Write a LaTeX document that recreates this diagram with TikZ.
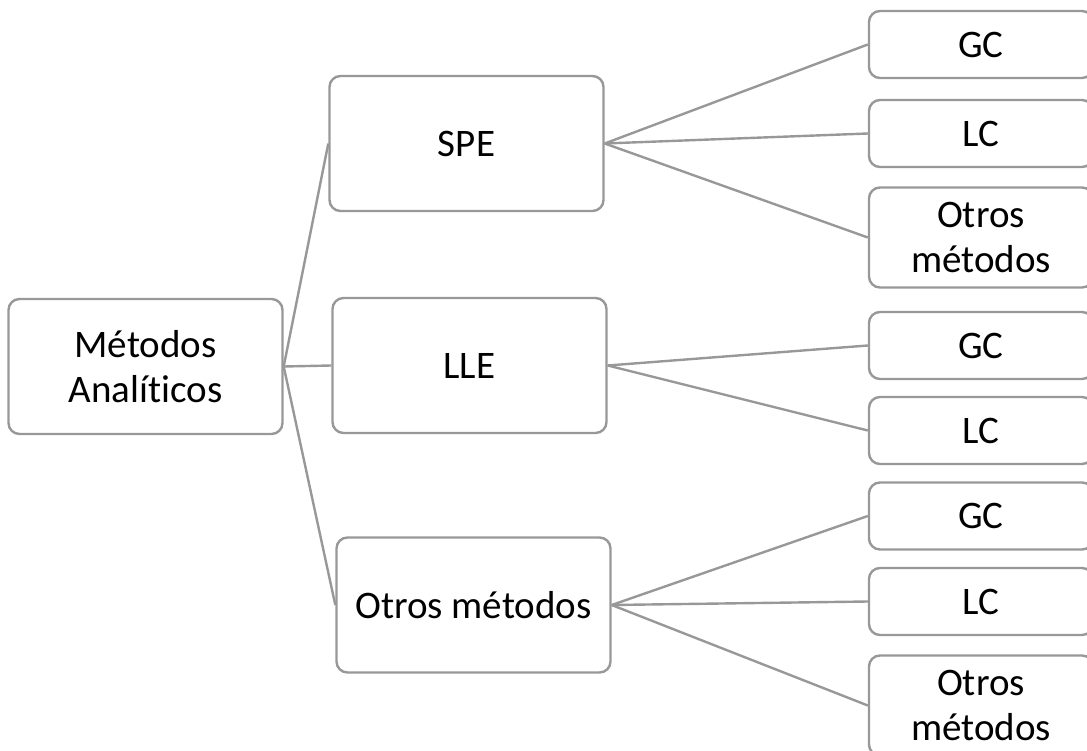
\documentclass[tikz,border=0pt]{standalone}
\usepackage{fontspec}
\setmainfont{Carlito}[Ligatures=NoCommon]
\usepackage{xcolor}
\usepackage{tikz}
\usetikzlibrary{positioning}
\definecolor{boxgray}{RGB}{152,152,152}
\tikzstyle{link} = [draw=boxgray, line width=2.4pt]
\tikzset{
    mbox/.style={draw=boxgray, line width=2.4pt, rounded corners=11pt, align=center,
        inner sep=0pt, font=\fontsize{39}{45}\selectfont},
    bigbox/.style={mbox, minimum width=274pt, minimum height=135pt},
    leafbox/.style={mbox, minimum width=224pt, minimum height=67pt},
    tallbox/.style={mbox, minimum width=224pt, minimum height=100pt},
}

\begin{document}
\begin{tikzpicture}[x=1pt, y=-1pt]
    \useasboundingbox (0,0) rectangle (1087,751);

    % root
    \node[bigbox] (root) at (145.5,366.5) {Métodos\\Analíticos};

    % second level
    \node[bigbox] (spe) at (466.5,143.5) {SPE};
    \node[bigbox] (lle) at (469.5,365.5) {LLE};
    \node[bigbox] (otros) at (473.5,605) {Otros métodos};

    % leaves of SPE
    \node[leafbox] (gca) at (981,44.5) {GC};
    \node[leafbox] (lca) at (981,133.5) {LC};
    \node[tallbox] (otrosa) at (981,237.5) {Otros\\métodos};

    % leaves of LLE
    \node[leafbox] (gcb) at (981,345.5) {GC};
    \node[leafbox] (lcb) at (981,430.5) {LC};

    % leaves of the other methods
    \node[leafbox] (gcc) at (981,516) {GC};
    \node[leafbox] (lcc) at (981,601.5) {LC};
    \node[tallbox] (otrosc) at (981,705.5) {Otros\\métodos};

    % connectors
    \draw[link] (root.east) -- (spe.west);
    \draw[link] (root.east) -- (lle.west);
    \draw[link] (root.east) -- (otros.west);
    \draw[link] (spe.east) -- (gca.west);
    \draw[link] (spe.east) -- (lca.west);
    \draw[link] (spe.east) -- (otrosa.west);
    \draw[link] (lle.east) -- (gcb.west);
    \draw[link] (lle.east) -- (lcb.west);
    \draw[link] (otros.east) -- (gcc.west);
    \draw[link] (otros.east) -- (lcc.west);
    \draw[link] (otros.east) -- (otrosc.west);
\end{tikzpicture}
\end{document}
